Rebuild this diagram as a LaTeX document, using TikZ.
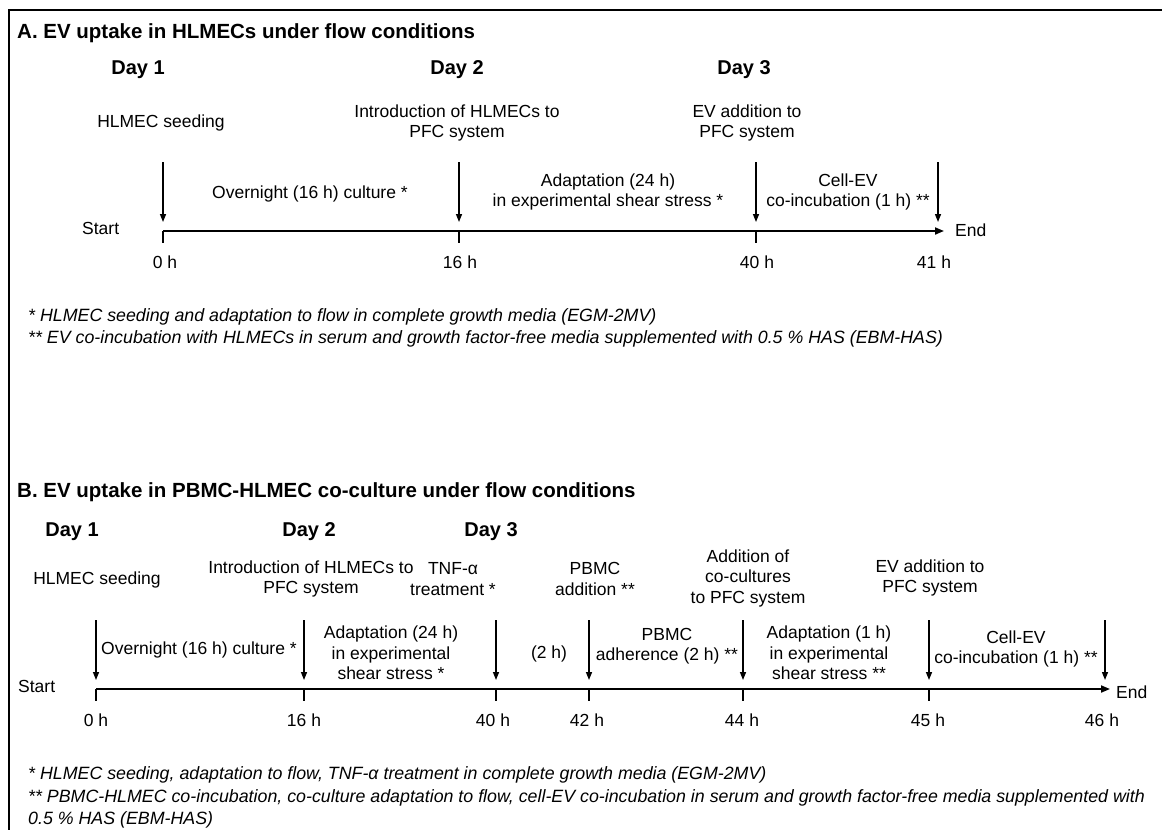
\documentclass[tikz,border=0pt]{standalone}
\usepackage{fontspec}
\setmainfont{Liberation Sans}
\usetikzlibrary{arrows.meta}
\begin{document}
\begin{tikzpicture}[x=1pt,y=-1pt,
  lbl/.style={font=\fontsize{17.5}{20.5}\selectfont, align=center, inner sep=0pt},
  dayl/.style={font=\bfseries\fontsize{20}{24}\selectfont, inner sep=0pt},
  ttl/.style={font=\bfseries\fontsize{20.5}{24}\selectfont, inner sep=0pt, anchor=west},
  fn/.style={font=\itshape\fontsize{17.8}{20}\selectfont, inner sep=0pt, anchor=west},
  hr/.style={font=\fontsize{17.5}{20}\selectfont, inner sep=0pt},
  evt/.style={line width=1.4pt, -{Triangle[width=6pt,length=8pt]}},
  axisl/.style={line width=1.8pt, -{Triangle[width=7pt,length=9pt]}},
  tickl/.style={line width=1.5pt},
]
\useasboundingbox (0,0) rectangle (1162,830);
\draw[line width=2pt] (9,830) -- (9,10) -- (1162,10);

% ---------------- Panel A ----------------
\node[ttl] (Atitle) at (17,33) {A. EV uptake in HLMECs under flow conditions};
\node[dayl] (Ad1) at (138,70) {Day 1};
\node[dayl] (Ad2) at (457,70) {Day 2};
\node[dayl] (Ad3) at (744,70) {Day 3};
\node[lbl] (Ae1) at (161,123) {HLMEC seeding};
\node[lbl] (Ae2) at (457,123) {Introduction of HLMECs to\\PFC system};
\node[lbl] (Ae3) at (747,123) {EV addition to\\PFC system};
\node[lbl] (Ap1) at (310,194) {Overnight (16 h) culture *};
\node[lbl] (Ap2) at (608,192) {Adaptation (24 h)\\in experimental shear stress *};
\node[lbl] (Ap3) at (848,192) {Cell-EV\\co-incubation (1 h) **};
\node[lbl, anchor=west] (Astart) at (82,228) {Start};
\node[lbl, anchor=west] (Aend) at (955,230) {End};

\coordinate (As) at (163,231);
\coordinate (Ae) at (944,231);
\draw[axisl] (As) -- (Ae);
\foreach \x/\n in {163/0,459/16,756/40}{
  \coordinate (At\n) at (\x,231);
  \coordinate (Atb\n) at (\x,243);
  \draw[tickl] (At\n) -- (Atb\n);
}
\foreach \x/\n in {163/0,459/16,756/40,938/41}{
  \coordinate (Aa\n) at (\x,162);
  \coordinate (Ab\n) at (\x,222);
  \draw[evt] (Aa\n) -- (Ab\n);
}
\node[hr] (Ah0) at (165,262) {0 h};
\node[hr] (Ah16) at (460,262) {16 h};
\node[hr] (Ah40) at (757,262) {40 h};
\node[hr] (Ah41) at (934,262) {41 h};

\node[fn] (Af1) at (28,317) {* HLMEC seeding and adaptation to flow in complete growth media (EGM-2MV)};
\node[fn] (Af2) at (28,339) {** EV co-incubation with HLMECs in serum and growth factor-free media supplemented with 0.5 \% HAS (EBM-HAS)};

% ---------------- Panel B ----------------
\node[ttl] (Btitle) at (17,492) {B. EV uptake in PBMC-HLMEC co-culture under flow conditions};
\node[dayl] (Bd1) at (72,532) {Day 1};
\node[dayl] (Bd2) at (309,532) {Day 2};
\node[dayl] (Bd3) at (491,532) {Day 3};
\node[lbl] (Be1) at (97,580) {HLMEC seeding};
\node[lbl] (Be2) at (311,579) {Introduction of HLMECs to\\PFC system};
\node[lbl] (Be3) at (453,579) {TNF-α\\treatment *};
\node[lbl] (Be4) at (595,579) {PBMC\\addition **};
\node[lbl] (Be5) at (748,578) {Addition of\\co-cultures\\to PFC system};
\node[lbl] (Be6) at (930,578) {EV addition to\\PFC system};

\node[lbl] (Bp1) at (199,650) {Overnight (16 h) culture *};
\node[lbl] (Bp2) at (391,653) {Adaptation (24 h)\\in experimental\\shear stress *};
\node[lbl] (Bp3) at (549,654) {(2 h)};
\node[lbl] (Bp4) at (667,646) {PBMC\\adherence (2 h) **};
\node[lbl] (Bp5) at (829,653) {Adaptation (1 h)\\in experimental\\shear stress **};
\node[lbl] (Bp6) at (1016,649) {Cell-EV\\co-incubation (1 h) **};
\node[lbl, anchor=west] (Bstart) at (18,686) {Start};
\node[lbl, anchor=west] (Bend) at (1116,692) {End};

\coordinate (Bs) at (96,689);
\coordinate (Be) at (1110,689);
\draw[axisl] (Bs) -- (Be);
\foreach \x/\n in {96/0,304/16,496/40,589/42,743/44,929/45}{
  \coordinate (Bt\n) at (\x,689);
  \coordinate (Btb\n) at (\x,701);
  \draw[tickl] (Bt\n) -- (Btb\n);
}
\foreach \x/\n in {96/0,304/16,496/40,589/42,743/44,929/45,1105/46}{
  \coordinate (Ba\n) at (\x,620);
  \coordinate (Bb\n) at (\x,680);
  \draw[evt] (Ba\n) -- (Bb\n);
}
\node[hr] (Bh0) at (96,720) {0 h};
\node[hr] (Bh16) at (304,720) {16 h};
\node[hr] (Bh40) at (493,720) {40 h};
\node[hr] (Bh42) at (587,720) {42 h};
\node[hr] (Bh44) at (742,720) {44 h};
\node[hr] (Bh45) at (928,720) {45 h};
\node[hr] (Bh46) at (1102,720) {46 h};

\node[fn] (Bf1) at (28,775) {* HLMEC seeding, adaptation to flow, TNF-α treatment in complete growth media (EGM-2MV)};
\node[fn] (Bf2) at (28,798) {** PBMC-HLMEC co-incubation, co-culture adaptation to flow, cell-EV co-incubation in serum and growth factor-free media supplemented with};
\node[fn] (Bf3) at (28,820) {0.5 \% HAS (EBM-HAS)};
\end{tikzpicture}
\end{document}
